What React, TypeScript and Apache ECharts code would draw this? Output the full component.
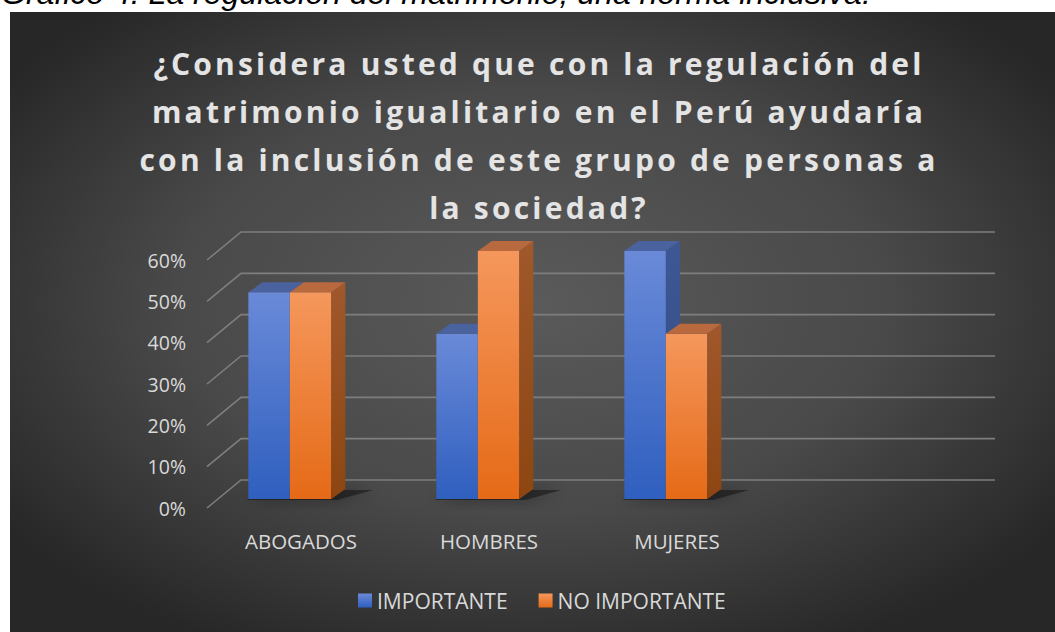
import React, { useEffect, useRef } from "react";
import * as echarts from "echarts";

const caption = "Gráfico 4: La regulación del matrimonio, una norma inclusiva.";
const titleLines = [
  "¿Considera usted que con la regulación del",
  "matrimonio igualitario en el Perú ayudaría",
  "con la inclusión de este grupo de personas a",
  "la sociedad?",
];
const categories = ["ABOGADOS", "HOMBRES", "MUJERES", ""];
const importante = [0.5, 0.4, 0.6];
const noImportante = [0.5, 0.6, 0.4];
const yTicks = [0, 0.1, 0.2, 0.3, 0.4, 0.5, 0.6];
const seriesNames = ["IMPORTANTE", "NO IMPORTANTE"];

const FONT = "'Open Sans', 'Noto Sans', sans-serif";

const faces = [
  {
    frontTop: "#6a8ad8",
    frontBottom: "#2f5fbf",
    top: "#4a629e",
    sideTop: "#3d5894",
    sideBottom: "#304a85",
  },
  {
    frontTop: "#f5975c",
    frontBottom: "#e56a17",
    top: "#b9693e",
    sideTop: "#a0582c",
    sideBottom: "#8d4511",
  },
];

function vGrad(a: string, b: string) {
  return new echarts.graphic.LinearGradient(0, 0, 0, 1, [
    { offset: 0, color: a },
    { offset: 1, color: b },
  ]);
}

function makeBarRender(si: number) {
  const f = faces[si];
  return (params: any, api: any) => {
    const i = api.value(0);
    const v = api.value(1);
    const bw = api.size([1, 0])[0];
    const c = api.coord([i, v]);
    const base = api.coord([i, 0]);
    const shiftY = -9;
    const w = bw * 0.2207;
    const xL = c[0] - bw * 0.28 + si * w;
    const xR = xL + w;
    const yT = c[1] + shiftY;
    const yB = base[1] + shiftY;
    const dx = 14;
    const dy = -10;
    const children: any[] = [];
    if (si === 0) {
      const sx = xL;
      const ex = xL + 2 * w;
      children.push({
        type: "polygon",
        shape: {
          points: [
            [sx - 2, yB + 1],
            [ex + 6, yB + 1],
            [ex + dx + 28, yB - 9],
            [sx + dx + 10, yB - 9],
          ],
        },
        style: {
          fill: "rgba(0,0,0,0.4)",
          shadowBlur: 16,
          shadowColor: "rgba(0,0,0,0.95)",
        },
        silent: true,
      });
    }
    children.push({
      type: "rect",
      shape: { x: xL, y: yT, width: w, height: yB - yT },
      style: { fill: vGrad(f.frontTop, f.frontBottom) },
    });
    children.push({
      type: "polygon",
      shape: {
        points: [
          [xR, yT],
          [xR + dx, yT + dy],
          [xR + dx, yB + dy],
          [xR, yB],
        ],
      },
      style: { fill: vGrad(f.sideTop, f.sideBottom) },
    });
    children.push({
      type: "polygon",
      shape: {
        points: [
          [xL, yT],
          [xL + dx, yT + dy],
          [xR + dx, yT + dy],
          [xR, yT],
        ],
      },
      style: { fill: f.top },
    });
    return { type: "group", children };
  };
}

function gridRender(params: any, api: any) {
  const v = api.value(0);
  const bw = api.size([1, 0])[0];
  const p0 = api.coord([0, v]);
  const p3 = api.coord([categories.length - 1, v]);
  const xl = p0[0] - bw / 2;
  const xr = p3[0] + bw / 2;
  const y = p0[1];
  return {
    type: "polyline",
    shape: {
      points: [
        [xl, y],
        [xl + 34, y - 28],
        [xr + 36, y - 28],
      ],
    },
    style: { stroke: "#7e7e7e", lineWidth: 1.6, fill: "none" },
    silent: true,
  };
}

function spaceTitle(root: HTMLElement) {
  const texts = root.querySelectorAll("text");
  texts.forEach((t) => {
    const s = (t.textContent || "").trim();
    if (titleLines.indexOf(s) >= 0) {
      t.setAttribute("letter-spacing", "3.2");
      (t as any).style.letterSpacing = "3.2px";
    }
  });
}

export default function App() {
  const ref = useRef<HTMLDivElement>(null);
  useEffect(() => {
    if (!ref.current) return;
    const el = ref.current;
    const chart = echarts.init(el, null, { renderer: "svg" });
    chart.on("finished", () => spaceTitle(el));
    chart.setOption({
      animation: false,
      backgroundColor: "#ffffff",
      graphic: [
        {
          type: "text",
          z: 0,
          x: 1,
          y: 9,
          style: {
            text: caption,
            fill: "#000000",
            font: "italic 32px 'Liberation Sans', Arial, sans-serif",
            verticalAlign: "bottom",
          },
          silent: true,
        },
        {
          type: "rect",
          z: 0,
          shape: { x: 10, y: 12, width: 1045, height: 620 },
          style: {
            fill: new echarts.graphic.RadialGradient(0.5, 0.47, 0.62, [
              { offset: 0, color: "#5a5a5a" },
              { offset: 0.55, color: "#494949" },
              { offset: 1, color: "#272727" },
            ]),
          },
          silent: true,
        },
      ],
      title: {
        text: titleLines.join("\n"),
        left: 539,
        top: 39,
        padding: 0,
        textAlign: "center",
        textStyle: {
          color: "#e4e4e4",
          fontFamily: FONT,
          fontWeight: "bold",
          fontSize: 30,
          lineHeight: 48,
        },
      },
      legend: {
        data: seriesNames,
        left: 358,
        top: 590,
        padding: 0,
        itemWidth: 14,
        itemHeight: 14,
        itemGap: 31,
        icon: "rect",
        textStyle: { color: "#d9d9d9", fontFamily: FONT, fontSize: 21 },
      },
      grid: { left: 207, right: 96, top: 260, bottom: 124 },
      xAxis: {
        type: "category",
        data: categories,
        axisLine: { show: false },
        axisTick: { show: false },
        axisLabel: {
          color: "#d9d9d9",
          fontFamily: FONT,
          fontSize: 20.5,
          margin: 22,
        },
      },
      yAxis: {
        type: "value",
        min: 0,
        max: 0.6,
        interval: 0.1,
        axisLine: { show: false },
        axisTick: { show: false },
        splitLine: { show: false },
        axisLabel: {
          color: "#d9d9d9",
          fontFamily: FONT,
          fontSize: 19.5,
          margin: 21,
          formatter: (v: number) => Math.round(v * 100) + "%",
        },
      },
      series: [
        {
          type: "custom",
          name: "grid",
          z: 1,
          renderItem: gridRender,
          data: yTicks.map((t) => [t]),
          encode: { y: 0 },
          silent: true,
        },
        {
          type: "custom",
          name: seriesNames[0],
          z: 2,
          itemStyle: { color: vGrad(faces[0].frontTop, faces[0].frontBottom) },
          renderItem: makeBarRender(0),
          data: importante.map((v, i) => [i, v]),
          encode: { x: 0, y: 1 },
        },
        {
          type: "custom",
          name: seriesNames[1],
          z: 3,
          itemStyle: { color: vGrad(faces[1].frontTop, faces[1].frontBottom) },
          renderItem: makeBarRender(1),
          data: noImportante.map((v, i) => [i, v]),
          encode: { x: 0, y: 1 },
        },
      ],
    });
    spaceTitle(el);
    const t = setTimeout(() => spaceTitle(el), 50);
    return () => {
      clearTimeout(t);
      chart.dispose();
    };
  }, []);
  return (
    <div
      ref={ref}
      style={{ position: "absolute", left: 0, top: 0, width: 1055, height: 632 }}
    />
  );
}
